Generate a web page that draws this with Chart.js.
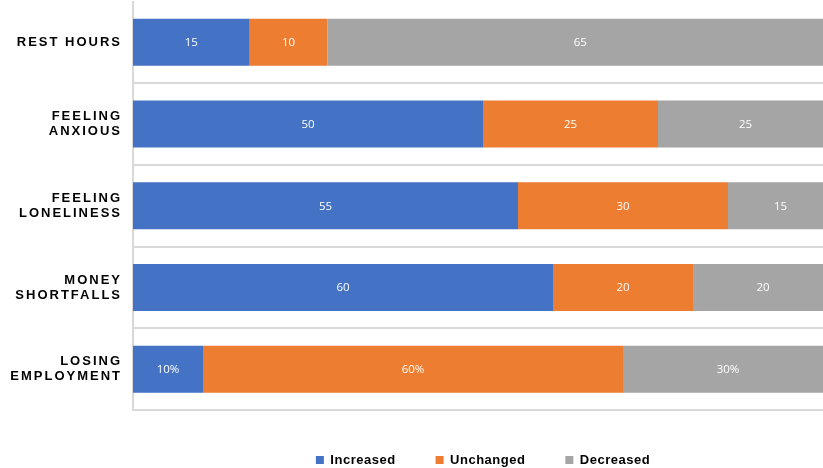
<!DOCTYPE html>
<html>
<head>
<meta charset="utf-8">
<script src="https://cdn.jsdelivr.net/npm/chart.js@4"></script>
<style>
  html, body { margin: 0; padding: 0; background: #fff; overflow: hidden; }
  #wrap { width: 840px; height: 468px; }
</style>
</head>
<body>
<div id="wrap"><canvas id="c" width="840" height="468"></canvas></div>
<script>
// ---- data ----
const categories = ['REST HOURS', ['FEELING', 'ANXIOUS'], ['FEELING', 'LONELINESS'], ['MONEY', 'SHORTFALLS'], ['LOSING', 'EMPLOYMENT']];
const seriesNames = ['Increased', 'Unchanged', 'Decreased'];
const increased = [15, 50, 55, 60, 10];
const unchanged = [10, 25, 30, 20, 60];
const decreased = [65, 25, 15, 20, 30];
const labelSuffix = ['', '', '', '', '%'];
const colors = ['#4472C4', '#ED7D31', '#A5A5A5'];

const raw = [increased, unchanged, decreased];
const totals = categories.map((_, i) => raw.reduce((s, arr) => s + arr[i], 0));
const shares = raw.map(arr => arr.map((v, i) => v / totals[i] * 100));

const spacingPlugin = {
  id: 'spacing',
  beforeLayout(chart) { chart.ctx.letterSpacing = '0.5px'; },
  afterLayout(chart) {
    const lg = chart.legend;
    if (lg && !lg._wrapped) {
      const d = lg.draw;
      lg.draw = function (...a) {
        this.ctx.letterSpacing = '0.5px';
        d.apply(this, a);
        this.ctx.letterSpacing = '2px';
      };
      lg._wrapped = true;
    }
  },
  beforeDraw(chart) { chart.ctx.letterSpacing = '0.5px'; }
};

const valueLabels = {
  id: 'valueLabels',
  afterDatasetsDraw(chart) {
    const ctx = chart.ctx;
    ctx.save();
    ctx.letterSpacing = '0px';
    ctx.font = '11.5px "Open Sans", sans-serif';
    ctx.fillStyle = '#ffffff';
    ctx.textAlign = 'center';
    ctx.textBaseline = 'middle';
    chart.data.datasets.forEach((ds, di) => {
      const meta = chart.getDatasetMeta(di);
      meta.data.forEach((el, i) => {
        const p = el.getProps(['x', 'base', 'y'], true);
        ctx.fillText(raw[di][i] + labelSuffix[i], (p.x + p.base) / 2, p.y + 0.5);
      });
    });
    ctx.restore();
  }
};

new Chart(document.getElementById('c'), {
  type: 'bar',
  data: {
    labels: categories,
    datasets: seriesNames.map((name, k) => ({
      label: name,
      data: shares[k],
      backgroundColor: colors[k],
      borderWidth: 0,
      barPercentage: 0.575,
      categoryPercentage: 1
    }))
  },
  options: {
    indexAxis: 'y',
    responsive: false,
    animation: false,
    layout: { padding: { top: 1.5, right: 7, left: 0, bottom: 0 } },
    scales: {
      x: { stacked: true, min: 0, max: 100, display: false },
      y: {
        stacked: true,
        afterFit(scale) {
          scale.width = 133;
          scale.paddingTop = 0;
          scale.paddingBottom = 0;
        },
        grid: {
          offset: true,
          drawTicks: false,
          lineWidth: 2,
          color: (c) => c.index === 0 ? 'rgba(0,0,0,0)' : '#d9d9d9'
        },
        border: { display: true, color: '#d9d9d9', width: 2 },
        ticks: {
          padding: 11,
          color: '#000',
          font: { family: '"Liberation Sans", Arial, sans-serif', size: 13, weight: 'bold', lineHeight: 1.15 }
        }
      }
    },
    plugins: {
      tooltip: { enabled: false },
      legend: {
        position: 'bottom',
        fullSize: false,
        maxHeight: 58,
        title: { display: true, text: '', font: { size: 1, lineHeight: 1 }, padding: 1.25 },
        labels: {
          boxWidth: 8,
          boxHeight: 8,
          padding: 40,
          color: '#000',
          font: { family: '"Liberation Sans", Arial, sans-serif', size: 13, weight: 'bold' }
        }
      }
    }
  },
  plugins: [spacingPlugin, valueLabels]
});
</script>
</body>
</html>
